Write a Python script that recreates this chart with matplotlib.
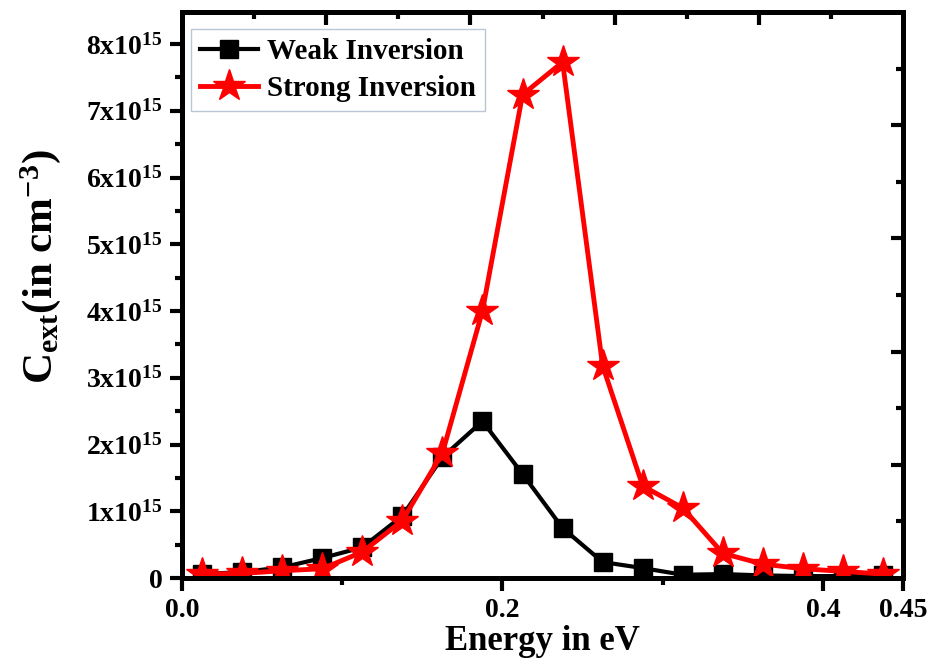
import matplotlib
matplotlib.use("Agg")
import matplotlib.pyplot as plt
from matplotlib.ticker import MultipleLocator, FixedLocator
import numpy as np

# data
energy = [0.0125, 0.0375, 0.0625, 0.0875, 0.1125, 0.1375, 0.1625, 0.1875, 0.2125,
          0.2375, 0.2625, 0.2875, 0.3125, 0.3375, 0.3625, 0.3875, 0.4125, 0.4375]
weak = [0.06, 0.09, 0.16, 0.30, 0.46, 0.93, 1.81, 2.35, 1.56,
        0.75, 0.24, 0.15, 0.05, 0.06, 0.04, 0.03, 0.03, 0.05]
strong = [0.06, 0.07, 0.11, 0.14, 0.39, 0.86, 1.87, 4.00, 7.24,
          7.73, 3.18, 1.38, 1.05, 0.37, 0.21, 0.14, 0.10, 0.06]
xticks = [0.0, 0.2, 0.4, 0.45]
xticklabels = ["0.0", "0.2", "0.4", "0.45"]
yticks = [0, 1, 2, 3, 4, 5, 6, 7, 8]
yticklabels = ["0"] + [r"%dx10$^{15}$" % v for v in yticks[1:]]

plt.rcParams['font.family'] = ['Liberation Serif', 'DejaVu Serif']
plt.rcParams['font.weight'] = 'bold'
plt.rcParams['mathtext.fontset'] = 'custom'
plt.rcParams['mathtext.rm'] = 'Liberation Serif:bold'
plt.rcParams['mathtext.it'] = 'Liberation Serif:bold'
plt.rcParams['mathtext.bf'] = 'Liberation Serif:bold'
plt.rcParams['mathtext.default'] = 'rm'

fig = plt.figure(figsize=(9.33, 6.66), dpi=100)
ax = fig.add_axes([0.195, 0.132, 0.773, 0.850])

scale = 1e15
ax.plot(energy, np.array(weak) * scale, '-s', color='black', lw=3, ms=13,
        label='Weak Inversion', zorder=3)
ax.plot(energy, np.array(strong) * scale, '-*', color='red', lw=3.5, ms=24,
        label='Strong Inversion', zorder=4)

ax.set_xlim(0, 0.45)
ax.set_ylim(0, 8.48e15)
ax.set_xticks(xticks)
ax.set_xticklabels(xticklabels)
ax.xaxis.set_minor_locator(FixedLocator([0.1, 0.3]))
ax.set_yticks(np.array(yticks) * scale)
ax.set_yticklabels(yticklabels)
ax.yaxis.set_minor_locator(MultipleLocator(0.5e15))

ax.tick_params(axis='both', which='major', direction='out', length=9, width=3,
               labelsize=20, pad=5)
ax.tick_params(axis='both', which='minor', direction='out', length=5, width=3)
for s in ax.spines.values():
    s.set_linewidth(3.5)

ax.set_xlabel('Energy in eV', fontsize=25, fontweight='bold', labelpad=2)
ax.set_ylabel(r'C$_{ext}$(in cm$^{-3}$)', fontsize=31, fontweight='bold')
ax.yaxis.set_label_coords(-0.165, 0.55)

# top and right axes: ticks only
top = ax.twiny()
top.set_xlim(0, 1)
top.xaxis.set_major_locator(FixedLocator([0.2, 0.4, 0.6, 0.8]))
top.xaxis.set_minor_locator(FixedLocator([0.1, 0.3, 0.5, 0.7, 0.9]))
top.tick_params(which='major', direction='in', length=9, width=3, labeltop=False)
top.tick_params(which='minor', direction='in', length=5, width=3)
right = ax.twinx()
right.set_ylim(0, 1)
right.yaxis.set_major_locator(FixedLocator([0.2, 0.4, 0.6, 0.8]))
right.yaxis.set_minor_locator(FixedLocator([0.1, 0.3, 0.5, 0.7, 0.9]))
right.tick_params(which='major', direction='in', length=9, width=3, labelright=False)
right.tick_params(which='minor', direction='in', length=5, width=3)
for a in (top, right):
    for s in a.spines.values():
        s.set_linewidth(3.5)

leg = ax.legend(loc='upper left', fontsize=21, frameon=True, fancybox=False,
                borderpad=0.3, handlelength=2.0, handletextpad=0.3,
                labelspacing=0.35, borderaxespad=0,
                bbox_to_anchor=(0.013, 0.97))
leg.get_frame().set_edgecolor('#a8b8c8')
leg.get_frame().set_linewidth(1)
for t in leg.get_texts():
    t.set_fontweight('bold')

fig.savefig('out.png', dpi=100)
